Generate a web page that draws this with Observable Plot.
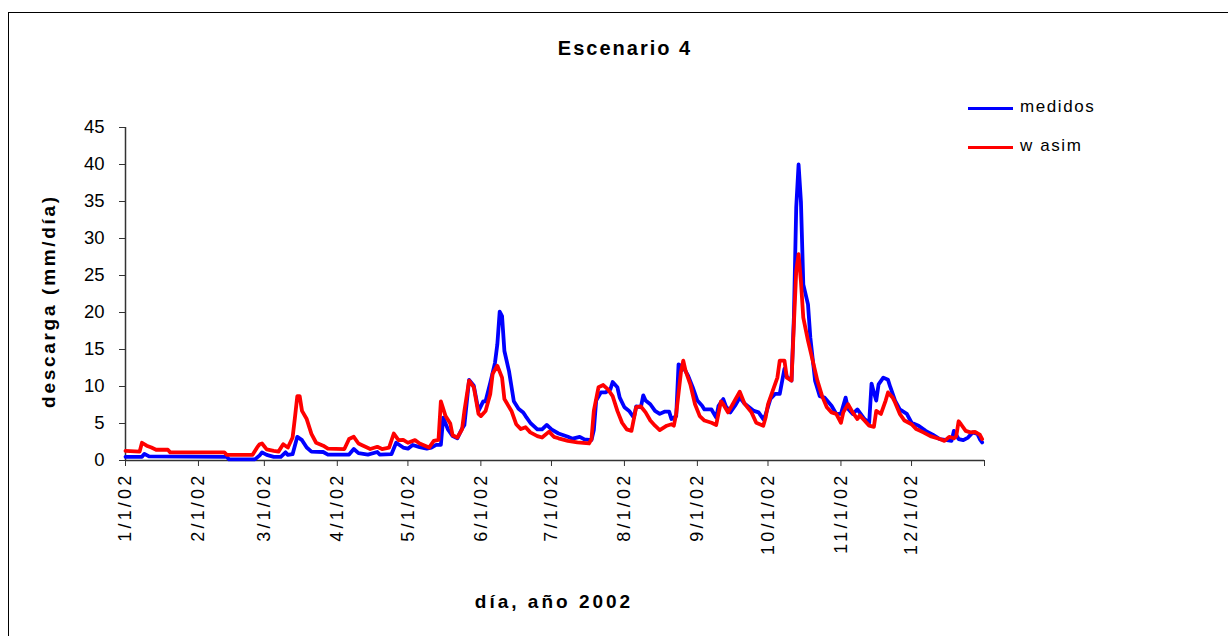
<!DOCTYPE html>
<html><head><meta charset="utf-8">
<script src="https://cdn.jsdelivr.net/npm/d3@7"></script>
<script src="https://cdn.jsdelivr.net/npm/@observablehq/plot@0.6"></script>
<style>
body{margin:0;background:#fff;overflow:hidden;font-family:Arial,"Liberation Sans",sans-serif}
#wrap{position:relative;width:1228px;height:636px;overflow:hidden;background:#fff}
#frame{position:absolute;left:8px;top:12px;width:1400px;height:800px;border:1px solid #000}
#chart{position:absolute;left:0;top:0}
.t{position:absolute;white-space:nowrap;color:#000}
#title{left:0;width:1250px;top:37px;text-align:center;font-weight:bold;font-size:20px;letter-spacing:2px}
#ytitle{left:49px;top:301px;font-weight:bold;font-size:19px;letter-spacing:2.7px;transform:translate(-50%,-50%) rotate(-90deg)}
#xtitle{left:554px;top:602px;font-weight:bold;font-size:19px;letter-spacing:3px;transform:translate(-50%,-50%)}
.leg{position:absolute;left:968px;height:0;width:45px;border-top:3px solid}
.legt{position:absolute;left:1020px;font-size:17px;letter-spacing:1.6px}
svg g[aria-label="x-axis tick label"] text{letter-spacing:3.2px}
</style></head>
<body><div id="wrap">
<div id="frame"></div>
<div id="chart"></div>
<div class="t" id="title">Escenario 4</div>
<div class="t" id="ytitle">descarga (mm/día)</div>
<div class="t" id="xtitle">día, año 2002</div>
<div class="leg" style="top:107px;border-color:#0000ff"></div>
<div class="t legt" style="top:97px">medidos</div>
<div class="leg" style="top:146px;border-color:#ff0000"></div>
<div class="t legt" style="top:136px">w asim</div>
</div>
<script>
// día del año (0 = 1/1/02) y descarga (mm/día)
const medidosDia = [0,7,8,10,43,44,55,57,58,60,63,66,68,69,71,73,75,77,79,84,86,95,97,99,103,107,108,113,115,118,120,122,125,128,130,132,134,135,137,139,141,143,144,146,148,150,152,153,155,157,158,159,160,161,163,165,167,169,170,172,175,177,179,181,184,188,190,193,195,198,199,200,202,204,206,207,209,210,212,214,216,217,219,220,221,223,225,227,229,231,232,234,235,237,239,241,243,245,246,249,251,252,254,255,257,259,261,263,265,267,269,271,272,274,276,278,280,281,283,284,285,286,287,288,290,291,293,295,297,300,302,304,306,307,309,311,314,316,317,318,319,320,322,324,325,327,329,332,334,337,340,343,346,349,351,352,354,356,358,360,362,363,364];
const medidosValor = [0.5,0.5,0.9,0.55,0.5,0.15,0.15,0.7,1.1,0.75,0.5,0.5,1.1,0.75,0.85,3.2,2.75,1.75,1.2,1.15,0.8,0.8,1.55,1.0,0.8,1.15,0.8,0.85,2.4,1.75,1.6,2.1,1.8,1.6,1.75,2.1,2.1,5.8,4.2,3.3,3.0,4.3,4.8,10.9,10.1,6.7,8.0,8.0,10.5,13.2,15.7,20.1,19.5,14.8,12,8.0,7.0,6.5,6.0,5.1,4.2,4.2,4.8,4.2,3.65,3.2,2.95,3.2,2.85,2.75,4.1,8.1,9.2,9.2,9.6,10.6,9.9,8.5,7.2,6.7,5.8,7.3,7.2,8.8,8.1,7.6,6.7,6.3,6.6,6.6,5.6,6.0,13.0,12.6,11.5,9.9,8.1,7.4,6.9,6.9,5.8,7.4,8.3,7.4,6.5,7.4,8.5,7.7,7.2,6.7,6.5,5.6,6.2,8.3,9.0,9.0,12.4,11.3,10.8,19.3,34.2,40.0,35,23.8,21.1,16.6,10.8,8.7,8.5,7.4,6.3,6.3,8.5,7.0,6.3,6.9,5.6,5.1,10.4,9.2,8.1,10.3,11.2,10.9,9.9,8.1,6.9,6.3,5.1,4.7,4.0,3.5,2.9,2.75,2.65,4.0,2.9,2.75,3.1,3.8,3.6,2.9,2.45];
const wasimDia = [0,6,7,9,11,13,18,19,42,43,54,56,57,58,60,63,65,67,69,71,72,73,74,75,77,79,81,84,86,93,95,97,99,101,104,107,109,112,114,116,118,120,123,125,129,131,133,134,136,138,139,141,143,144,146,148,150,151,153,155,156,158,160,161,164,166,168,170,172,175,177,180,182,184,188,192,197,198,199,201,203,205,207,209,211,213,215,217,219,221,223,225,227,230,232,233,234,236,237,238,240,242,244,246,249,251,253,254,256,258,261,263,266,268,271,272,273,275,277,278,280,281,283,284,285,286,287,288,290,292,294,296,298,300,302,304,305,307,309,311,312,314,316,318,319,321,323,324,326,327,329,331,334,336,339,342,346,348,350,352,353,354,355,357,359,361,363,364];
const wasimValor = [1.3,1.2,2.4,2.0,1.75,1.45,1.45,1.1,1.1,0.77,0.77,1.8,2.2,2.3,1.5,1.3,1.2,2.2,1.75,3.1,5.8,8.7,8.7,6.7,5.6,3.6,2.4,2.0,1.6,1.55,2.9,3.2,2.3,2.0,1.55,1.85,1.55,1.75,3.65,2.75,2.8,2.4,2.75,2.3,1.75,2.65,2.8,8.0,6.0,5.0,3.4,3.1,4.2,6.7,10.8,9.9,6.3,6.0,6.7,9.0,11.7,12.8,11.2,8.3,6.7,4.9,4.25,4.5,3.8,3.3,3.1,3.9,3.2,3.0,2.65,2.45,2.3,2.9,6.7,9.9,10.2,9.6,8.7,6.7,5.1,4.2,4.0,7.2,7.3,6.5,5.4,4.7,4.1,4.7,4.9,4.7,6.3,11.9,13.5,12.1,10.3,7.6,6.0,5.4,5.1,4.8,8.0,7.6,6.5,7.6,9.3,7.7,6.5,5.1,4.7,5.8,7.6,9.4,11.2,13.5,13.5,11.2,10.8,18.4,25.6,27.9,24.2,19.3,16.2,13.5,10.8,8.7,7.2,6.5,6.3,5.1,6.5,7.6,6.5,5.6,6.1,5.4,4.7,4.55,6.7,6.3,8.1,9.2,8.5,7.85,6.3,5.4,4.9,4.25,3.8,3.3,2.9,2.65,3.2,3.0,3.3,5.3,4.9,4.0,3.8,3.85,3.5,2.9,2.55];
const etiquetasMes = ["1/1/02","2/1/02","3/1/02","4/1/02","5/1/02","6/1/02","7/1/02","8/1/02","9/1/02","10/1/02","11/1/02","12/1/02"];
const ticksY = [0,5,10,15,20,25,30,35,40,45];
const series = ["medidos","wasim"];

const inicio = new Date(Date.UTC(2002,0,1));
const fin = new Date(Date.UTC(2003,0,1));
const fecha = d => d3.utcDay.offset(inicio, d);
const filas = [
  ...medidosDia.map((d,i)=>({fecha:fecha(d), valor:medidosValor[i], serie:series[0]})),
  ...wasimDia.map((d,i)=>({fecha:fecha(d), valor:wasimValor[i], serie:series[1]}))
];
const ticksX = d3.range(13).map(m => new Date(Date.UTC(2002,m,1)));

const chart = Plot.plot({
  width:1228, height:636,
  marginLeft:125, marginRight:244, marginTop:127, marginBottom:176,
  style:{fontFamily:"Arial, 'Liberation Sans', sans-serif", fontSize:"18px", color:"#000", background:"transparent", overflow:"visible"},
  x:{type:"utc", domain:[inicio, fin]},
  y:{domain:[0,45]},
  color:{domain:series, range:["#0000ff","#ff0000"]},
  marks:[
    Plot.axisY(ticksY, {tickSize:6, tickPadding:15, stroke:"#333", label:null, fontSize:18.5}),
    Plot.axisX(ticksX, {tickSize:6, tickPadding:6, tickRotate:-90, stroke:"#333", label:null, fontSize:18,
      tickFormat:(d)=>{const i=ticksX.findIndex(t=>+t===+d); return i<12?etiquetasMes[i]:"";}}),
    Plot.ruleX([inicio], {stroke:"#333", strokeWidth:1.5}),
    Plot.ruleY([0], {stroke:"#333", strokeWidth:1.5}),
    Plot.line(filas, {x:"fecha", y:"valor", stroke:"serie", z:"serie", strokeWidth:3.8, strokeLinejoin:"round"})
  ]
});
document.getElementById("chart").appendChild(chart);
</script>
</body></html>
